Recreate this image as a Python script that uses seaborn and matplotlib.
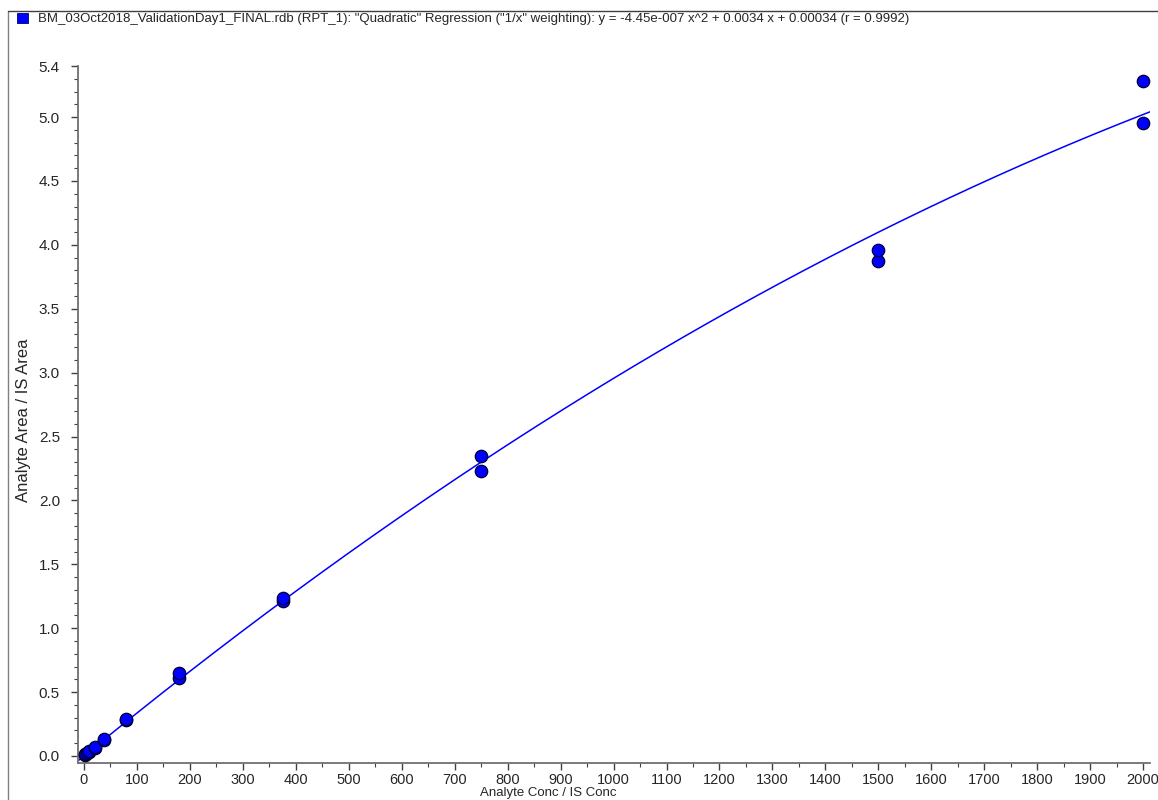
import numpy as np
import pandas as pd
import matplotlib
matplotlib.use("Agg")
import matplotlib.pyplot as plt
from matplotlib.lines import Line2D
from matplotlib.patches import Rectangle
from matplotlib.ticker import MultipleLocator
import seaborn as sns

# calibration standards (Analyte Conc / IS Conc) and measured area ratios
conc = [2, 2, 5, 5, 10, 10, 20, 20, 37.5, 37.5, 80, 80, 180, 180,
        375, 375, 750, 750, 1500, 1500, 2000, 2000]
area_ratio = [0.008, 0.012, 0.02, 0.025, 0.035, 0.04, 0.065, 0.07, 0.125, 0.13,
              0.28, 0.29, 0.61, 0.65, 1.21, 1.24, 2.23, 2.35, 3.87, 3.96, 4.95, 5.28]

# quadratic fit ("1/x" weighting) as reported
coef_a = -4.45e-007
coef_b = 0.0034
coef_c = 0.00034
r_value = 0.9992

y_ticks = [0.0, 0.5, 1.0, 1.5, 2.0, 2.5, 3.0, 3.5, 4.0, 4.5, 5.0, 5.4]
x_ticks = list(range(0, 2001, 100))

title = ('BM_03Oct2018_ValidationDay1_FINAL.rdb (RPT_1): "Quadratic" Regression '
         '("1/x" weighting): y = %.2e x^2 + %.4f x + %.5f (r = %.4f)'
         % (coef_a, coef_b, coef_c, r_value)).replace("e-07", "e-007")

df = pd.DataFrame({"conc": conc, "ratio": area_ratio})
xfit = np.linspace(-11, 2013, 400)
fit = pd.DataFrame({"conc": xfit, "ratio": coef_a * xfit ** 2 + coef_b * xfit + coef_c})

sns.set_style("white")
plt.rcParams["font.family"] = ["Liberation Sans", "DejaVu Sans"]

fig = plt.figure(figsize=(11.58, 8), dpi=100)
ax = fig.add_axes([78 / 1158, 1 - 763 / 800, (1150 - 78) / 1158, (763 - 66) / 800])

sns.lineplot(data=fit, x="conc", y="ratio", ax=ax, color="#0000ff", lw=1.1, zorder=2)
sns.scatterplot(data=df, x="conc", y="ratio", ax=ax, color="#0000ff", s=80,
                edgecolor="#000033", linewidth=0.9, zorder=3)

ax.set_xlim(-11.3, 2013)
ax.set_ylim(-0.055, 5.4)
ax.set_xticks(x_ticks)
ax.set_xticklabels([str(v) for v in x_ticks])
ax.set_yticks(y_ticks)
ax.set_yticklabels(["%.1f" % v for v in y_ticks])
ax.xaxis.set_minor_locator(MultipleLocator(50))
ax.yaxis.set_minor_locator(MultipleLocator(0.1))
ax.tick_params(which="major", direction="out", length=5, width=1, color="#404040",
               labelsize=11, pad=3, left=True, bottom=True)
ax.tick_params(which="minor", direction="out", length=3, width=0.8, color="#404040",
               left=True, bottom=True)
ax.tick_params(axis="y", which="major", pad=8)
ax.tick_params(axis="x", which="major", labelsize=10.5, pad=2)

for s in ["top", "right"]:
    ax.spines[s].set_visible(False)
for s in ["left", "bottom"]:
    ax.spines[s].set_color("#707070")
    ax.spines[s].set_linewidth(1.3)

ax.set_ylabel("Analyte Area / IS Area", fontsize=12)
ax.yaxis.set_label_coords((31 - 78) / 1072, (763 - 420) / 697)
ax.set_xlabel("Analyte Conc / IS Conc", fontsize=9.5)
ax.xaxis.set_label_coords((548 - 78) / 1072, (763 - 787) / 697)

# outer frame lines and legend row
fig.add_artist(Line2D([8 / 1158, 8 / 1158], [0, 1 - 11 / 800], transform=fig.transFigure,
                      color="#808080", lw=1))
fig.add_artist(Line2D([8 / 1158, 1], [1 - 11 / 800, 1 - 11 / 800], transform=fig.transFigure,
                      color="#404040", lw=1))
fig.add_artist(Rectangle((17 / 1158, 1 - 23 / 800), 11 / 1158, 10 / 800,
                         transform=fig.transFigure, facecolor="#0000ff", edgecolor="#000066", lw=0.6))
fig.text(38 / 1158, 1 - 19 / 800, title, fontsize=9.5, va="center", ha="left")

fig.savefig("out.png", dpi=100)
